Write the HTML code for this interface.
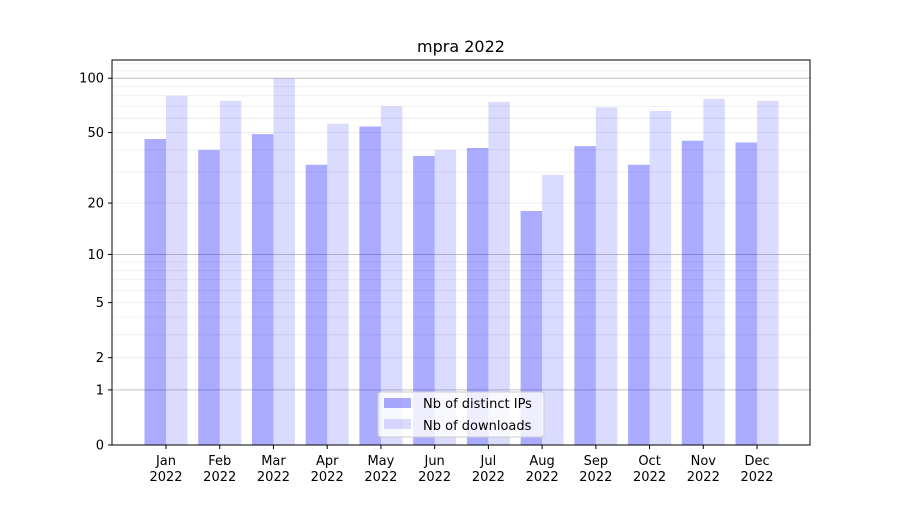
<!DOCTYPE html>
<html><head><meta charset="utf-8"><style>
body{margin:0;background:#fff}
svg text{font-family:"DejaVu Sans","Liberation Sans",sans-serif;font-size:13px;fill:#000}
</style></head><body>
<svg id="chart" width="900" height="500" xmlns="http://www.w3.org/2000/svg">
<rect width="900" height="500" fill="#fff"/>
<text x="461" y="52" text-anchor="middle" style="font-size:16px">mpra 2022</text>
<g id="grid"></g>
<g id="bars"></g>
<g id="axes"></g>
<g>
<rect x="378" y="392" width="166" height="45" rx="3" fill="#fff" fill-opacity="0.8" stroke="#ccc"/>
<rect x="384" y="398" width="27" height="10" fill="rgba(0,0,255,0.33)"/>
<text x="423" y="408">Nb of distinct IPs</text>
<rect x="384" y="419" width="27" height="10" fill="rgba(0,0,255,0.14)"/>
<text x="423" y="430">Nb of downloads</text>
</g>
</svg>
<script>
const months=["Jan","Feb","Mar","Apr","May","Jun","Jul","Aug","Sep","Oct","Nov","Dec"];
const ips=[46,40,49,33,54,37,41,18,42,33,45,44];
const downloads=[80,75,100,56,70,40,74,29,69,66,77,75];
const yTicks=[0,1,2,5,10,20,50,100];
const NS="http://www.w3.org/2000/svg";
const L=112,R=810,T=60,B=445;
const yMax=2.104;
function y(v){return B-(Math.log10(v+1)/yMax)*(B-T);}
function xc(i){return 166+i*53.73;}
const bw=21.5;
function mk(tag,attrs,parent){const e=document.createElementNS(NS,tag);for(const k in attrs)e.setAttribute(k,attrs[k]);parent.appendChild(e);return e;}
const grid=document.getElementById('grid'),bars=document.getElementById('bars'),axes=document.getElementById('axes');
const minors=[2,3,4,5,6,7,8,9,20,30,40,50,60,70,80,90,110,120];
minors.forEach(v=>{const l=mk('line',{x1:L,x2:R,y1:y(v),y2:y(v),stroke:'#ebebeb','stroke-width':0.8},grid);

});
[1,10,100].forEach(v=>{const l=mk('line',{x1:L,x2:R,y1:y(v),y2:y(v),stroke:'#c4c4c4','stroke-width':1},grid);

});
months.forEach((m,i)=>{
const a=mk('rect',{x:xc(i)-bw,y:y(ips[i]),width:bw,height:B-y(ips[i]),fill:'rgba(0,0,255,0.33)'},bars);


const b=mk('rect',{x:xc(i),y:y(downloads[i]),width:bw,height:B-y(downloads[i]),fill:'rgba(0,0,255,0.14)'},bars);


mk('line',{x1:xc(i),x2:xc(i),y1:B,y2:B+4,stroke:'#000'},axes);
const t=mk('text',{x:xc(i),y:B+20,'text-anchor':'middle'},axes);t.textContent=m;


const t2=mk('text',{x:xc(i),y:B+36,'text-anchor':'middle'},axes);t2.textContent='2022';


});
yTicks.forEach(v=>{mk('line',{x1:L-4,x2:L,y1:y(v),y2:y(v),stroke:'#000'},axes);
const t=mk('text',{x:L-8,y:y(v)+4.5,'text-anchor':'end'},axes);t.textContent=v;

});
const f=mk('rect',{x:L,y:T,width:R-L,height:B-T,fill:'none',stroke:'#000','stroke-width':1},axes);


</script>
</body></html>
